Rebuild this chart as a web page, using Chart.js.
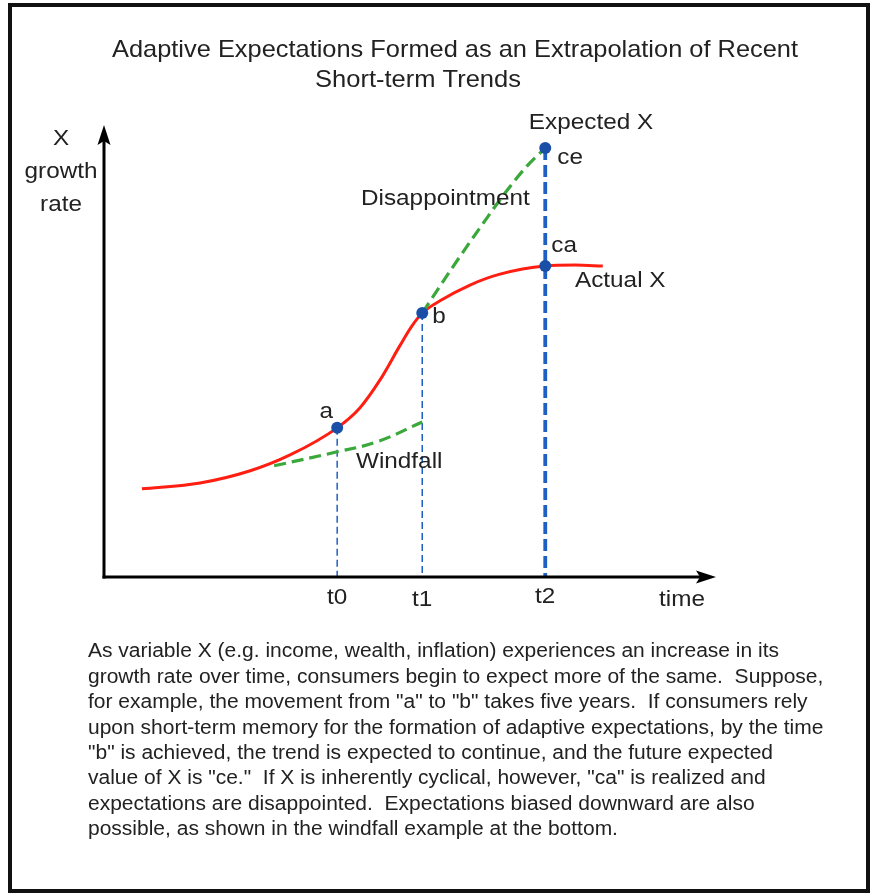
<!DOCTYPE html>
<html><head><meta charset="utf-8">
<script src="https://cdn.jsdelivr.net/npm/chart.js@4"></script>
<style>html,body{margin:0;padding:0;background:#fff;}#wrap{width:875px;height:895px;}</style>
</head><body><div id="wrap"><canvas id="c" width="875" height="895"></canvas></div>
<script>
// ---- data (x: time units 0..100, y: growth rate units 0..100) ----
const actualX = [6.2, 15.7, 23.9, 30.4, 38.1, 41.8, 45.1, 48.4, 50.3, 52.0, 54.9, 59.8, 64.7, 72.1, 77.0, 81.5];
const actualY = [19.5, 20.8, 23.5, 27.0, 33.0, 37.4, 43.6, 51.3, 55.5, 58.4, 61.1, 64.6, 67.0, 68.8, 69.0, 68.8];
const windfallX = [27.8, 38.1, 44.6, 52.0];
const windfallY = [24.6, 27.7, 29.9, 34.3];
const expectedX = [52.0, 56.9, 61.4, 65.5, 69.1, 72.1];
const expectedY = [58.4, 68.4, 77.2, 84.9, 90.9, 94.9];
const timeTicks = [38.1, 52.0, 72.1];
const timeLabels = ['t0', 't1', 't2'];
const pointNames = ['a', 'b', 'ca', 'ce'];
const pointX = [38.1, 52.0, 72.1, 72.1];
const pointY = [33.0, 58.4, 68.8, 94.9];
const titleLines = ['Adaptive Expectations Formed as an Extrapolation of Recent', 'Short-term Trends'];
const yAxisLabel = ['X', 'growth', 'rate'];
const xAxisLabel = 'time';
const paragraph = [
  'As variable X (e.g. income, wealth, inflation) experiences an increase in its',
  'growth rate over time, consumers begin to expect more of the same.  Suppose,',
  'for example, the movement from "a" to "b" takes five years.  If consumers rely',
  'upon short-term memory for the formation of adaptive expectations, by the time',
  '"b" is achieved, the trend is expected to continue, and the future expected',
  'value of X is "ce."  If X is inherently cyclical, however, "ca" is realized and',
  'expectations are disappointed.  Expectations biased downward are also',
  'possible, as shown in the windfall example at the bottom.'
];

const RED = '#ff1e12', GREEN = '#3aa83a', BLUE = '#1f5fc4', DOT = '#1a4fa8', INK = '#222';
const FONT = '"Liberation Sans", Arial, Helvetica, sans-serif';
const zip = (xs, ys) => xs.map((x, i) => ({x, y: ys[i]}));

// vertical drop lines from points a, b, ce to the time axis
const dropA = [{x: pointX[0], y: pointY[0]}, {x: timeTicks[0], y: 0}];
const dropB = [{x: pointX[1], y: pointY[1]}, {x: timeTicks[1], y: 0}];
const dropC = [{x: pointX[3], y: pointY[3]}, {x: timeTicks[2], y: 0}];

function txt(ctx, s, x, cy, size, align, sx) {
  ctx.save();
  ctx.font = size + 'px ' + FONT;
  ctx.fillStyle = INK;
  ctx.textBaseline = 'middle';
  const w = ctx.measureText(s).width * sx;
  let left = x;
  if (align === 'center') left = x - w / 2;
  else if (align === 'right') left = x - w;
  ctx.translate(left, cy);
  ctx.scale(sx, 1);
  ctx.textAlign = 'left';
  ctx.fillText(s, 0, 0);
  ctx.restore();
}
function fitTxt(ctx, s, left, cy, size, width) {
  ctx.save();
  ctx.font = size + 'px ' + FONT;
  const sx = width / ctx.measureText(s).width;
  ctx.restore();
  txt(ctx, s, left, cy, size, 'left', sx);
  return sx;
}

const decor = {
  id: 'decor',
  afterDraw(chart) {
    const ctx = chart.ctx, xs = chart.scales.x, ys = chart.scales.y;
    const x0 = xs.getPixelForValue(0), y0 = ys.getPixelForValue(0);
    const xTip = xs.getPixelForValue(100), yTip = ys.getPixelForValue(100);
    ctx.save();
    ctx.strokeStyle = '#111'; ctx.lineWidth = 4;
    ctx.strokeRect(10, 5, 858, 886);
    ctx.strokeStyle = '#000'; ctx.fillStyle = '#000'; ctx.lineWidth = 3;
    ctx.beginPath(); ctx.moveTo(x0, y0 + 1.5); ctx.lineTo(x0, yTip + 10); ctx.stroke();
    ctx.beginPath(); ctx.moveTo(x0 - 1.5, y0); ctx.lineTo(xTip - 10, y0); ctx.stroke();
    ctx.beginPath(); ctx.moveTo(x0, yTip); ctx.lineTo(x0 - 6.5, yTip + 20); ctx.lineTo(x0, yTip + 16); ctx.lineTo(x0 + 6.5, yTip + 20); ctx.closePath(); ctx.fill();
    ctx.beginPath(); ctx.moveTo(xTip, y0); ctx.lineTo(xTip - 20, y0 - 6.5); ctx.lineTo(xTip - 16, y0); ctx.lineTo(xTip - 20, y0 + 6.5); ctx.closePath(); ctx.fill();
    ctx.restore();

    const S = 1.08, L = 22.5;
    fitTxt(ctx, titleLines[0], 112, 50, 24, 686);
    fitTxt(ctx, titleLines[1], 315, 80, 24, 206);
    txt(ctx, yAxisLabel[0], 61, 139, L, 'center', S);
    txt(ctx, yAxisLabel[1], 61, 172, L, 'center', S);
    txt(ctx, yAxisLabel[2], 61, 205, L, 'center', S);
    const tickY = [598, 600, 597];
    timeTicks.forEach((t, i) => txt(ctx, timeLabels[i], xs.getPixelForValue(t), tickY[i], L, 'center', S));
    txt(ctx, xAxisLabel, 682, 600, L, 'center', S);
    const px = i => xs.getPixelForValue(pointX[i]), py = i => ys.getPixelForValue(pointY[i]);
    txt(ctx, pointNames[0], px(0) - 11, py(0) - 16, L, 'center', S);
    txt(ctx, pointNames[1], px(1) + 10, py(1) + 4, L, 'left', S);
    txt(ctx, pointNames[2], px(2) + 6, py(2) - 20, L, 'left', S);
    txt(ctx, pointNames[3], px(3) + 12, py(3) + 10, L, 'left', S);
    txt(ctx, 'Expected X', 591, 123, L, 'center', S);
    txt(ctx, 'Disappointment', 361, 199, L, 'left', S);
    txt(ctx, 'Actual X', 575, 281, L, 'left', S);
    txt(ctx, 'Windfall', 356, 462, L, 'left', S);
    const sx = fitTxt(ctx, paragraph[0], 88, 652, 19.5, 691);
    for (let i = 1; i < paragraph.length; i++) txt(ctx, paragraph[i], 88, 652 + i * 25.4, 19.5, 'left', sx);
  }
};

new Chart(document.getElementById('c'), {
  type: 'scatter',
  data: {
    datasets: [
      {label: 'points', data: zip(pointX, pointY), showLine: false, pointRadius: 6, pointBackgroundColor: DOT, pointBorderWidth: 0, order: 0},
      {label: 'Actual X', data: zip(actualX, actualY), showLine: true, borderColor: RED, borderWidth: 3, pointRadius: 0, cubicInterpolationMode: 'monotone', order: 2},
      {label: 'Windfall', data: zip(windfallX, windfallY), showLine: true, borderColor: GREEN, borderWidth: 3.2, borderDash: [12, 6], pointRadius: 0, tension: 0.4, order: 1},
      {label: 'Expected X', data: zip(expectedX, expectedY), showLine: true, borderColor: GREEN, borderWidth: 3.2, borderDash: [12, 6], pointRadius: 0, cubicInterpolationMode: 'monotone', order: 1},
      {label: 't0', data: dropA, showLine: true, borderColor: BLUE, borderWidth: 1.5, borderDash: [7, 4], pointRadius: 0, order: 3},
      {label: 't1', data: dropB, showLine: true, borderColor: BLUE, borderWidth: 1.5, borderDash: [7, 4], pointRadius: 0, order: 3},
      {label: 't2', data: dropC, showLine: true, borderColor: BLUE, borderWidth: 3.8, borderDash: [12, 5], pointRadius: 0, order: 3}
    ]
  },
  options: {
    responsive: false, animation: false, devicePixelRatio: 1,
    layout: {padding: {left: 104, right: 159, top: 125, bottom: 318}},
    plugins: {legend: {display: false}, tooltip: {enabled: false}, title: {display: false}},
    scales: {
      x: {type: 'linear', min: 0, max: 100, display: false},
      y: {type: 'linear', min: 0, max: 100, display: false}
    }
  },
  plugins: [decor]
});
</script>
</body></html>
